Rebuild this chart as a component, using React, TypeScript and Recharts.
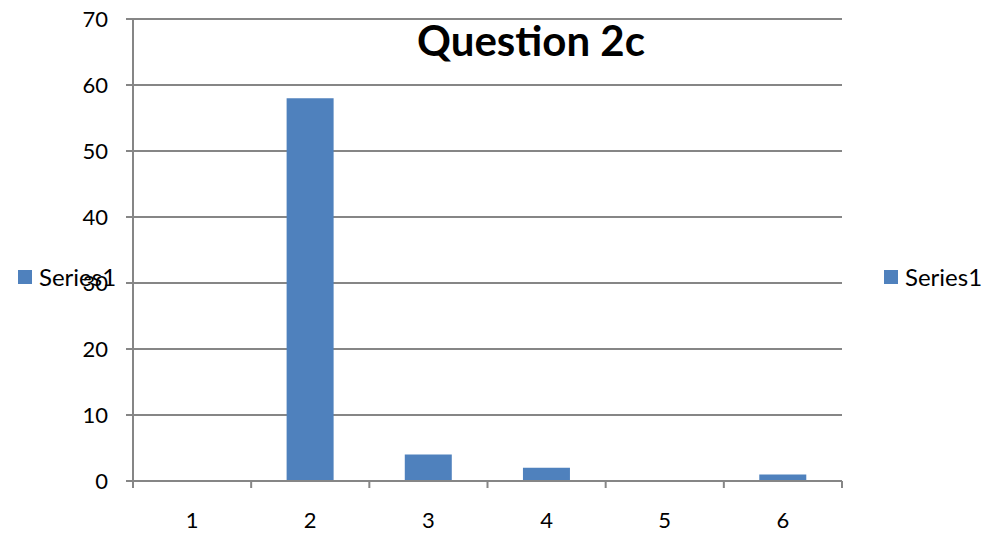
import React from 'react';
import { BarChart, Bar, XAxis, YAxis, CartesianGrid } from 'recharts';

const categories = ['1', '2', '3', '4', '5', '6'];
const series1 = [0, 58, 4, 2, 0, 1];
const yTicks = [0, 10, 20, 30, 40, 50, 60, 70];

const data = categories.map((name, i) => ({ name, value: series1[i] }));

const FONT = 'Lato, "Open Sans", sans-serif';
const GRID = '#868686';
const BLUE = '#4F81BD';

const WIDTH = 1005;
const HEIGHT = 537;
const PLOT_LEFT = 133;
const PLOT_RIGHT = 842;
const BAND = (PLOT_RIGHT - PLOT_LEFT) / categories.length;

// category labels centred, tick marks on the category boundaries (Excel style)
function CategoryTick(props: any) {
  const { x, y, payload, index } = props;
  const left = x - BAND / 2;
  const right = x + BAND / 2;
  return (
    <g>
      <line x1={left} y1={y} x2={left} y2={y + 7} stroke={GRID} strokeWidth={2} />
      {index === categories.length - 1 && (
        <line x1={right} y1={y} x2={right} y2={y + 7} stroke={GRID} strokeWidth={2} />
      )}
      <text x={x} y={y + 47} textAnchor="middle" fontSize={22} fontFamily={FONT} fill="#000">
        {payload.value}
      </text>
    </g>
  );
}

function YTick(props: any) {
  const { x, y, payload } = props;
  return (
    <text x={x} y={y} dy="0.36em" textAnchor="end" fontSize={22} fontFamily={FONT} fill="#000">
      {payload.value}
    </text>
  );
}

function LegendItem({ left, top }: { left: number; top: number }) {
  return (
    <div
      style={{
        position: 'absolute',
        left,
        top,
        display: 'flex',
        alignItems: 'center',
        fontFamily: FONT,
        fontSize: 24,
        color: '#000',
        whiteSpace: 'nowrap',
      }}
    >
      <span style={{ width: 14, height: 14, background: BLUE, marginRight: 7, display: 'inline-block' }} />
      Series1
    </div>
  );
}

export default function App() {
  return (
    <div style={{ position: 'absolute', left: 0, top: 0, width: WIDTH, height: HEIGHT, background: '#fff' }}>
      <BarChart
        width={WIDTH}
        height={HEIGHT}
        data={data}
        margin={{ top: 19, right: WIDTH - PLOT_RIGHT, bottom: 0, left: 0 }}
        barCategoryGap="30%"
      >
        <CartesianGrid vertical={false} stroke={GRID} strokeWidth={2} />
        <XAxis
          dataKey="name"
          height={56}
          axisLine={{ stroke: GRID, strokeWidth: 2 }}
          tickLine={false}
          tickSize={0}
          tickMargin={0}
          tick={<CategoryTick />}
          interval={0}
        />
        <YAxis
          width={PLOT_LEFT}
          domain={[0, 70]}
          ticks={yTicks}
          interval={0}
          axisLine={{ stroke: GRID, strokeWidth: 2 }}
          tickLine={{ stroke: GRID, strokeWidth: 2 }}
          tickSize={7}
          tickMargin={18}
          tick={<YTick />}
        />
        <Bar dataKey="value" fill={BLUE} isAnimationActive={false} />
      </BarChart>
      <div
        style={{
          position: 'absolute',
          left: 331,
          width: 400,
          top: 15,
          textAlign: 'center',
          fontFamily: FONT,
          fontWeight: 'bold',
          fontSize: 42,
          color: '#000',
        }}
      >
        Question 2c
      </div>
      <LegendItem left={18} top={262} />
      <LegendItem left={884} top={262} />
    </div>
  );
}
